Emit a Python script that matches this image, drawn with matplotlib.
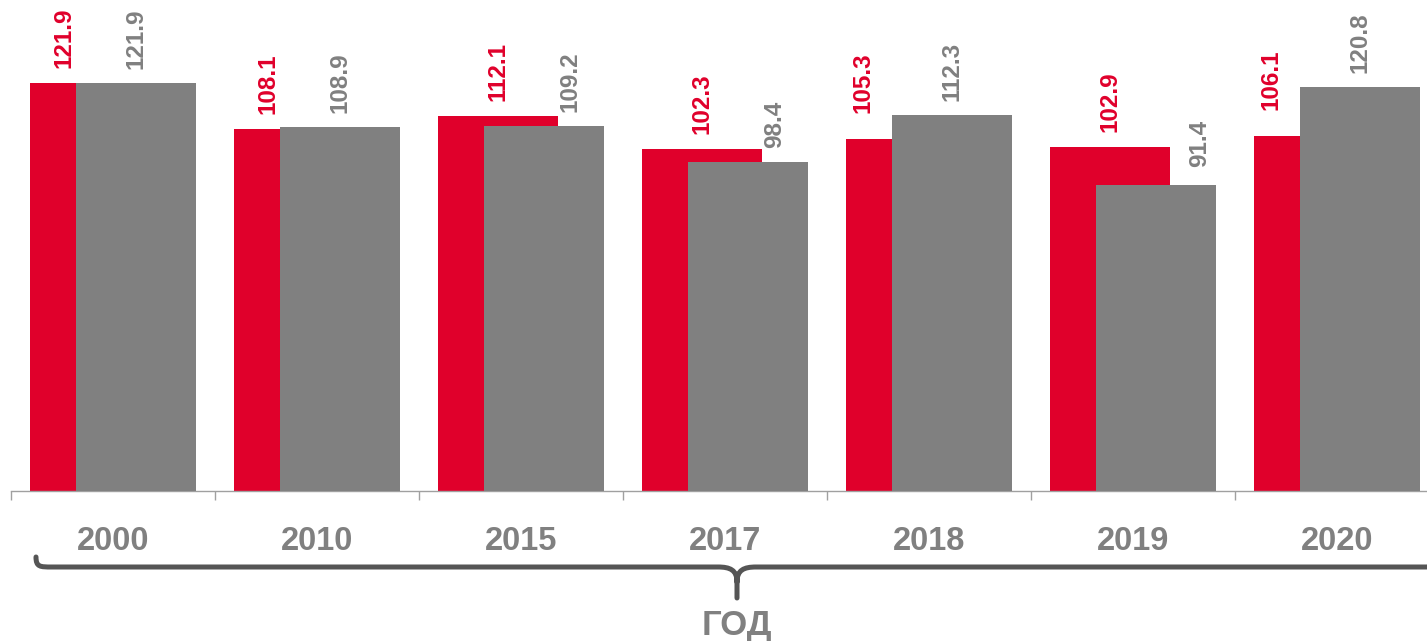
"""Grouped overlapping bars by year, with a brace under the axis."""

import matplotlib
matplotlib.use("Agg")
import matplotlib.pyplot as plt
from matplotlib.path import Path
from matplotlib.patches import PathPatch

plt.rcParams["font.family"] = ["Liberation Sans", "DejaVu Sans"]

YEARS = ["2000", "2010", "2015", "2017", "2018", "2019", "2020"]
RED_VALUES = [121.9, 108.1, 112.1, 102.3, 105.3, 102.9, 106.1]
GRAY_VALUES = [121.9, 108.9, 109.2, 98.4, 112.3, 91.4, 120.8]
AXIS_LABEL = "ГОД"

RED = "#e0002b"
GRAY = "#808080"
BRACE = "#555555"

W, H = 1427, 641
BAR_W = 0.588
OFF = 0.115
PX = 0.72  # points per pixel at dpi 100


def fx(x):
    return x / W


def fy(y):
    return 1 - y / H


def label_shift(diff):
    # sideways nudge (px) so a label clears the neighbouring taller bar
    return 26 if diff < 5 else 43


fig = plt.figure(figsize=(W / 100, H / 100), dpi=100)
ax = fig.add_axes([fx(11), 150 / H, 1428 / W, 491 / H])

xs = list(range(len(YEARS)))
ax.bar([x - OFF for x in xs], RED_VALUES, width=BAR_W, color=RED, zorder=2)
ax.bar([x + OFF for x in xs], GRAY_VALUES, width=BAR_W, color=GRAY, zorder=3)

for x, r, g in zip(xs, RED_VALUES, GRAY_VALUES):
    rdx, rdy = 0, 15
    gdx, gdy = 0, 14
    if g >= r:
        rdx = -label_shift(g - r)
        rdy = 15 if g - r < 5 else 26
    else:
        gdx = label_shift(r - g)
        gdy = 14 if r - g < 5 else 18
    ax.annotate(f"{r:.1f}", xy=(x - OFF, r), xytext=(rdx * PX, rdy * PX),
                textcoords="offset points", rotation=90, ha="center", va="bottom",
                fontsize=17.5, fontweight="bold", color=RED, zorder=5)
    ax.annotate(f"{g:.1f}", xy=(x + OFF, g), xytext=(gdx * PX, gdy * PX),
                textcoords="offset points", rotation=90, ha="center", va="bottom",
                fontsize=17.5, fontweight="bold", color=GRAY, zorder=5)

ax.set_xlim(-0.5, len(YEARS) - 0.5)
ax.set_ylim(0, 491 / 3.347)

for side in ("left", "right", "top"):
    ax.spines[side].set_visible(False)
ax.spines["bottom"].set_color("#a0a0a0")
ax.spines["bottom"].set_linewidth(1)
ax.set_yticks([])

ax.set_xticks([x - 0.5 for x in xs] + [len(YEARS) - 0.5])
ax.set_xticklabels([])
ax.tick_params(axis="x", which="major", length=9 * PX, width=1, color="#a0a0a0")
ax.set_xticks(xs, minor=True)
ax.set_xticklabels(YEARS, minor=True, fontsize=23.5, fontweight="bold", color=GRAY)
ax.tick_params(axis="x", which="minor", length=0, pad=25.5)

# curly brace under the year labels
verts = [
    (36, 557), (36, 567), (40, 567), (52, 567),
    (718, 567),
    (730, 567), (737, 570), (737, 582),
    (737, 598),
    (737, 582),
    (737, 570), (744, 567), (756, 567),
    (1422, 567),
    (1434, 567), (1438, 567), (1438, 557),
]
codes = [
    Path.MOVETO, Path.CURVE4, Path.CURVE4, Path.CURVE4,
    Path.LINETO,
    Path.CURVE4, Path.CURVE4, Path.CURVE4,
    Path.LINETO,
    Path.MOVETO,
    Path.CURVE4, Path.CURVE4, Path.CURVE4,
    Path.LINETO,
    Path.CURVE4, Path.CURVE4, Path.CURVE4,
]
brace = Path([(fx(x), fy(y)) for x, y in verts], codes)
fig.add_artist(PathPatch(brace, transform=fig.transFigure, facecolor="none",
                         edgecolor=BRACE, linewidth=5 * PX, capstyle="round",
                         joinstyle="round"))

fig.text(fx(737), fy(626), AXIS_LABEL, ha="center", va="center",
         fontsize=25, fontweight="bold", color=GRAY)

fig.savefig("out.png", dpi=100, facecolor="white")
